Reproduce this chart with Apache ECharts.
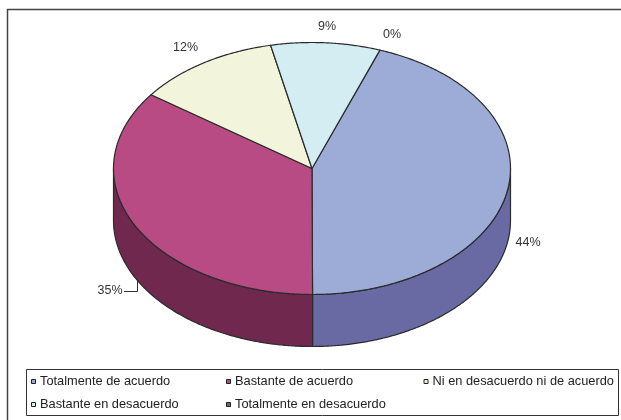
<!DOCTYPE html>
<html>
<head>
<meta charset="utf-8">
<style>html,body{margin:0;padding:0;background:#fff}#c{width:621px;height:420px}</style>
<script src="https://cdn.jsdelivr.net/npm/echarts@6/dist/echarts.min.js"></script>
</head>
<body>
<div id="c"></div>
<script>
const categories = ['Totalmente de acuerdo','Bastante de acuerdo','Ni en desacuerdo ni de acuerdo','Bastante en desacuerdo','Totalmente en desacuerdo'];
const values = [44.4, 35.0, 11.7, 8.9, 0];
const topColors = ['#9DABD7','#B84B84','#F2F4DC','#D3EDF3','#5A6A8F'];
const wallColors = ['#6969A3','#70284F','#A2A393','#8D9EA2','#55607F'];
const labelAnchors = [[528,243],[110,291],[185.5,47.5],[327,27],[392,35]];
const legendColumns = [[0,3],[1,4],[2]];
const legendLefts = [26,221,418.5];

const pie = {cx:312, cy:168.5, rx:198.5, ry:126, depth:52, startDeg:20};
const total = values.reduce((a,b)=>a+b,0);
const starts = [];
values.reduce((acc,v,i)=>{starts[i]=acc;return acc+v;},0);
const toDeg = v => pie.startDeg + v/total*360;
const pt = (deg,dy) => {
  const t = deg*Math.PI/180;
  return [pie.cx+pie.rx*Math.sin(t), pie.cy-pie.ry*Math.cos(t)+(dy||0)];
};
const arc = (a,b,dy) => {
  const pts=[];
  const n=Math.max(2,Math.ceil(Math.abs(b-a)*2));
  for(let k=0;k<=n;k++) pts.push(pt(a+(b-a)*k/n,dy));
  return pts;
};
const ink='#2b2b2b';
const series = categories.map((name,i)=>({
  type:'custom', name, coordinateSystem:'none', silent:true,
  itemStyle:{color:topColors[i]},
  data:[[values[i]]],
  renderItem(params,api){
    const a=toDeg(starts[i]), b=a+api.value(0)/total*360;
    const children=[];
    const wa=Math.max(a,90), wb=Math.min(b,270);
    if(wb>wa){
      children.push({type:'polygon',
        shape:{points:arc(wa,wb,0).concat(arc(wb,wa,pie.depth))},
        style:{fill:wallColors[i],stroke:ink,lineWidth:1.2,lineJoin:'round'}});
    }
    if(b>a){
      children.push({type:'polygon',
        shape:{points:[[pie.cx,pie.cy]].concat(arc(a,b,0))},
        style:{fill:topColors[i],stroke:ink,lineWidth:1.2,lineJoin:'round'}});
    }
    children.push({type:'text',z2:5,
      style:{x:labelAnchors[i][0],y:labelAnchors[i][1],text:Math.round(api.value(0))+'%',
        align:'center',verticalAlign:'middle',fontFamily:'Liberation Sans',fontSize:12.5,fill:'#333'}});
    return {type:'group',children};
  }
}));
const chart = echarts.init(document.getElementById('c'),null,{renderer:'canvas'});
chart.setOption({
  animation:false,
  backgroundColor:'#fff',
  legend:legendColumns.map((col,j)=>({
    orient:'vertical', left:legendLefts[j], top:370, itemGap:10,
    itemWidth:4, itemHeight:4, icon:'rect', selectedMode:false,
    itemStyle:{borderColor:'#222',borderWidth:1},
    textStyle:{fontFamily:'Liberation Sans',fontSize:12.8,color:'#222',padding:[0,0,0,-0.5]},
    data:col.map(k=>categories[k])
  })),
  series,
  graphic:[
    {type:'polyline',silent:true,shape:{points:[[7.5,420],[7.5,9.5],[621,9.5]]},style:{fill:'none',stroke:'#444',lineWidth:1.5}},
    {type:'rect',silent:true,shape:{x:26.5,y:369.5,width:592,height:46},style:{fill:'none',stroke:'#333',lineWidth:1}},
    {type:'polyline',silent:true,shape:{points:[[124,291.5],[137.5,291.5],[137.5,278]]},style:{fill:'none',stroke:'#333',lineWidth:1}}
  ]
});
</script>
</body>
</html>
